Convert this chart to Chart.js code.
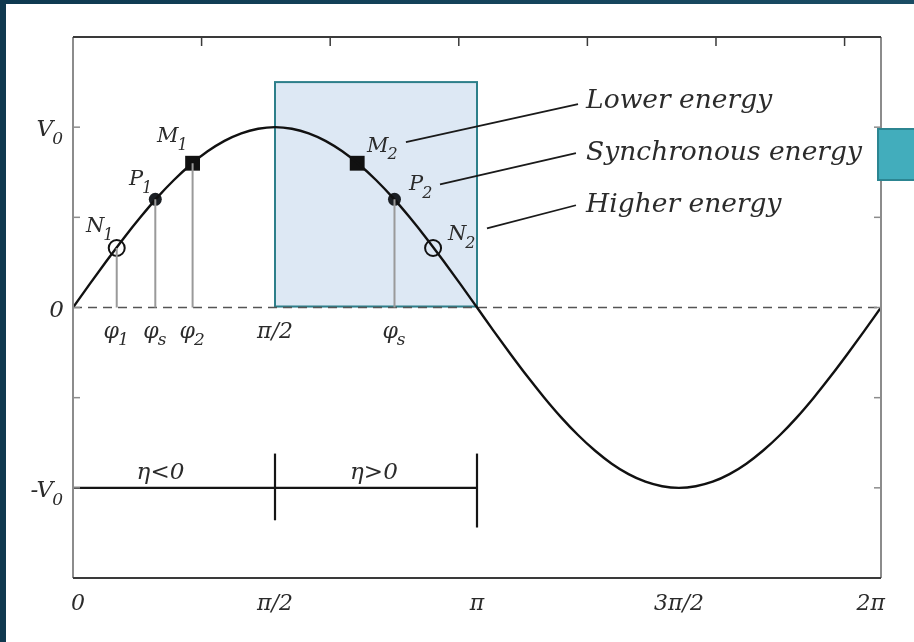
<!DOCTYPE html>
<html>
<head>
<meta charset="utf-8">
<script src="https://cdn.jsdelivr.net/npm/chart.js@4.4.0/dist/chart.umd.min.js"></script>
<style>
  body { margin: 0; background: #fff; }
  #wrap { position: relative; width: 914px; height: 642px; overflow: hidden; }
  #frameTop { position: absolute; left: 0; top: 0; width: 914px; height: 4px; background: linear-gradient(90deg, #0e3950, #1a4c64); }
  #frameLeft { position: absolute; left: 0; top: 0; width: 6px; height: 642px; background: #10394f; }
  #tab { position: absolute; left: 877px; top: 128px; width: 45px; height: 53px; background: #42adbc; border: 2px solid #2c8591; box-sizing: border-box; }
</style>
</head>
<body>
<div id="wrap">
  <canvas id="rf" width="914" height="642"></canvas>
  <div id="frameTop"></div>
  <div id="frameLeft"></div>
  <div id="tab"></div>
</div>
<script>
// RF voltage over one period (phase in rad, voltage in units of V0)
const curvePhase = [0, 0.131, 0.262, 0.393, 0.524, 0.654, 0.785, 0.916, 1.047, 1.178, 1.309, 1.440, 1.571,
  1.702, 1.833, 1.963, 2.094, 2.225, 2.356, 2.487, 2.618, 2.749, 2.880, 3.011, 3.142,
  3.272, 3.403, 3.534, 3.665, 3.796, 3.927, 4.058, 4.189, 4.320, 4.451, 4.581, 4.712,
  4.843, 4.974, 5.105, 5.236, 5.367, 5.498, 5.629, 5.760, 5.890, 6.021, 6.152, 6.283];
const curveVolt = [0, 0.131, 0.259, 0.383, 0.5, 0.609, 0.707, 0.793, 0.866, 0.924, 0.966, 0.991, 1,
  0.991, 0.966, 0.924, 0.866, 0.793, 0.707, 0.609, 0.5, 0.383, 0.259, 0.131, 0,
  -0.131, -0.259, -0.383, -0.5, -0.609, -0.707, -0.793, -0.866, -0.924, -0.966, -0.991, -1,
  -0.991, -0.966, -0.924, -0.866, -0.793, -0.707, -0.609, -0.5, -0.383, -0.259, -0.131, 0];

// particles: N = higher energy, P = synchronous, M = lower energy
const phaseN = [0.34, 2.80];
const voltN = [0.33, 0.33];
const phaseP = [0.64, 2.50];
const voltP = [0.6, 0.6];
const phaseM = [0.93, 2.21];
const voltM = [0.8, 0.8];

// stems from the axis up to the points
const stemPhase = [0.34, 0.64, 0.93, 2.50];
const stemVolt = [0.33, 0.6, 0.8, 0.6];

// axes
const xTicks = [0, Math.PI / 2, Math.PI, 3 * Math.PI / 2, 2 * Math.PI];
const xTickLabels = ['0', 'π/2', 'π', '3π/2', '2π'];
const radTicks = [1, 2, 3, 4, 5, 6];
const yTicks = [-1, -0.5, 0, 0.5, 1];
const yTickValues = [1, 0, -1];
const yTickLabels = [['V', '0'], ['0', ''], ['-V', '0']];
const phiTicks = [0.34, 0.64, 0.93, Math.PI / 2, 2.50];
const phiLabels = [['φ', '1'], ['φ', 's'], ['φ', '2'], ['π/2', ''], ['φ', 's']];

// stable region and slip factor bar
const bucketPhase = [Math.PI / 2, Math.PI];
const bucketTop = 1.25;
const etaPhase = [0, Math.PI / 2, Math.PI];
const etaLabels = ['η<0', 'η>0'];
const energyLabels = ['Lower energy', 'Synchronous energy', 'Higher energy'];

const FONT = '"DejaVu Serif"';
const TXT = '#2b2b2b';

function subText(ctx, main, sub, x, y, size, align) {
  ctx.font = 'italic ' + size + 'px ' + FONT;
  const w1 = ctx.measureText(main).width;
  const subSize = Math.round(size * 0.76);
  ctx.font = 'italic ' + subSize + 'px ' + FONT;
  const w2 = sub ? ctx.measureText(sub).width : 0;
  let left = x;
  if (align === 'right') left = x - w1 - w2;
  if (align === 'center') left = x - (w1 + w2) / 2;
  ctx.textAlign = 'left';
  ctx.textBaseline = 'alphabetic';
  ctx.fillStyle = TXT;
  ctx.font = 'italic ' + size + 'px ' + FONT;
  ctx.fillText(main, left, y);
  if (sub) {
    ctx.font = 'italic ' + subSize + 'px ' + FONT;
    ctx.fillText(sub, left + w1 - 1, y + size * 0.36);
  }
}

function line(ctx, x1, y1, x2, y2) {
  ctx.beginPath();
  ctx.moveTo(x1, y1);
  ctx.lineTo(x2, y2);
  ctx.stroke();
}

const phaseDiagram = {
  id: 'phaseDiagram',
  beforeDatasetsDraw(chart) {
    const ctx = chart.ctx;
    const xs = chart.scales.x, ys = chart.scales.y;
    const a = chart.chartArea;
    ctx.save();
    // bucket
    const bx1 = xs.getPixelForValue(bucketPhase[0]);
    const bx2 = xs.getPixelForValue(bucketPhase[1]);
    const by1 = ys.getPixelForValue(bucketTop);
    const by2 = ys.getPixelForValue(0);
    ctx.fillStyle = '#dde8f4';
    ctx.fillRect(bx1, by1, bx2 - bx1, by2 - by1);
    ctx.strokeStyle = '#2d7f8a';
    ctx.lineWidth = 2;
    ctx.strokeRect(bx1, by1, bx2 - bx1, by2 - by1 - 1);
    // zero line
    ctx.strokeStyle = '#555';
    ctx.lineWidth = 1.5;
    ctx.setLineDash([9, 6]);
    line(ctx, a.left, by2, a.right, by2);
    ctx.setLineDash([]);
    // slip factor bar at -V0
    const ey = ys.getPixelForValue(-1);
    ctx.strokeStyle = '#151515';
    ctx.lineWidth = 2.2;
    line(ctx, xs.getPixelForValue(etaPhase[0]), ey, xs.getPixelForValue(etaPhase[2]), ey);
    line(ctx, xs.getPixelForValue(etaPhase[1]), ys.getPixelForValue(-0.81), xs.getPixelForValue(etaPhase[1]), ys.getPixelForValue(-1.18));
    line(ctx, xs.getPixelForValue(etaPhase[2]), ys.getPixelForValue(-0.81), xs.getPixelForValue(etaPhase[2]), ys.getPixelForValue(-1.22));
    ctx.restore();
  },
  afterDatasetsDraw(chart) {
    const ctx = chart.ctx;
    const xs = chart.scales.x, ys = chart.scales.y;
    const a = chart.chartArea;
    ctx.save();
    // frame
    ctx.lineWidth = 2;
    ctx.strokeStyle = '#8c8c8c';
    line(ctx, a.left, a.top, a.left, a.bottom);
    line(ctx, a.right, a.top, a.right, a.bottom);
    ctx.strokeStyle = '#3a3a3a';
    line(ctx, a.left, a.top, a.right, a.top);
    line(ctx, a.left, a.bottom, a.right, a.bottom);
    // inward ticks
    ctx.lineWidth = 1.5;
    radTicks.forEach(t => {
      const x = xs.getPixelForValue(t);
      line(ctx, x, a.top, x, a.top + 9);
    });
    ctx.strokeStyle = '#8c8c8c';
    yTicks.forEach(t => {
      const y = ys.getPixelForValue(t);
      line(ctx, a.left, y, a.left + 7, y);
      line(ctx, a.right, y, a.right - 7, y);
    });
    // x labels
    xTicks.forEach((t, i) => {
      let x = xs.getPixelForValue(t);
      let align = 'center';
      if (i === 0) { x -= 2; align = 'left'; }
      if (i === xTicks.length - 1) { x += 4; align = 'right'; }
      subText(ctx, xTickLabels[i], '', x, a.bottom + 32, 22, align);
    });
    // y labels
    yTickValues.forEach((t, i) => {
      subText(ctx, yTickLabels[i][0], yTickLabels[i][1], a.left - 9, ys.getPixelForValue(t) + 9, 23, 'right');
    });
    // phase labels under the zero line
    phiTicks.forEach((t, i) => {
      subText(ctx, phiLabels[i][0], phiLabels[i][1], xs.getPixelForValue(t), ys.getPixelForValue(0) + 30, 22, 'center');
    });
    // point names
    const names = [
      ['M', '1', 0.653, 0.918], ['P', '1', 0.435, 0.678], ['N', '1', 0.101, 0.417],
      ['M', '2', 2.286, 0.863], ['P', '2', 2.613, 0.65], ['N', '2', 2.916, 0.372]
    ];
    names.forEach(n => subText(ctx, n[0], n[1], xs.getPixelForValue(n[2]), ys.getPixelForValue(n[3]), 21, 'left'));
    // callouts
    const callouts = [
      [2.589, 0.917, 3.927, 1.128, 1.107],
      [2.854, 0.683, 3.911, 0.856, 0.82],
      [3.219, 0.439, 3.911, 0.567, 0.529]
    ];
    ctx.strokeStyle = '#1a1a1a';
    ctx.lineWidth = 1.8;
    callouts.forEach((c, i) => {
      line(ctx, xs.getPixelForValue(c[0]), ys.getPixelForValue(c[1]), xs.getPixelForValue(c[2]), ys.getPixelForValue(c[3]));
      subText(ctx, energyLabels[i], '', xs.getPixelForValue(3.99), ys.getPixelForValue(c[4]), 26.5, 'left');
    });
    // slip factor labels
    subText(ctx, etaLabels[0], '', xs.getPixelForValue(0.68), ys.getPixelForValue(-0.95), 23, 'center');
    subText(ctx, etaLabels[1], '', xs.getPixelForValue(2.34), ys.getPixelForValue(-0.95), 23, 'center');
    ctx.restore();
  }
};

const toPoints = (xv, yv) => xv.map((x, i) => ({ x: x, y: yv[i] }));
const stemData = [];
stemPhase.forEach((x, i) => {
  stemData.push({ x: x, y: 0 }, { x: x, y: stemVolt[i] }, { x: x, y: null });
});

new Chart(document.getElementById('rf'), {
  type: 'line',
  data: {
    datasets: [
      {
        data: stemData,
        borderColor: '#9a9a9a',
        borderWidth: 2,
        pointRadius: 0,
        spanGaps: false
      },
      {
        data: toPoints(curvePhase, curveVolt),
        borderColor: '#111',
        borderWidth: 2.4,
        pointRadius: 0,
        cubicInterpolationMode: 'monotone'
      },
      {
        data: toPoints(phaseN, voltN),
        showLine: false,
        pointStyle: 'circle',
        pointRadius: 8,
        pointBorderWidth: 2,
        pointBorderColor: '#111',
        pointBackgroundColor: 'rgba(0,0,0,0)'
      },
      {
        data: toPoints(phaseP, voltP),
        showLine: false,
        pointStyle: 'circle',
        pointRadius: 6.5,
        pointBorderWidth: 0,
        pointBackgroundColor: '#1b1f24'
      },
      {
        data: toPoints(phaseM, voltM),
        showLine: false,
        pointStyle: 'rect',
        pointRadius: 10.5,
        pointBorderWidth: 0,
        pointBackgroundColor: '#111'
      }
    ]
  },
  options: {
    responsive: false,
    animation: false,
    layout: { padding: { left: 73, top: 37, right: 33, bottom: 64 } },
    plugins: { legend: { display: false }, tooltip: { enabled: false } },
    scales: {
      x: { type: 'linear', min: 0, max: 2 * Math.PI, display: false },
      y: { type: 'linear', min: -1.5, max: 1.5, display: false }
    }
  },
  plugins: [phaseDiagram]
});
</script>
</body>
</html>
